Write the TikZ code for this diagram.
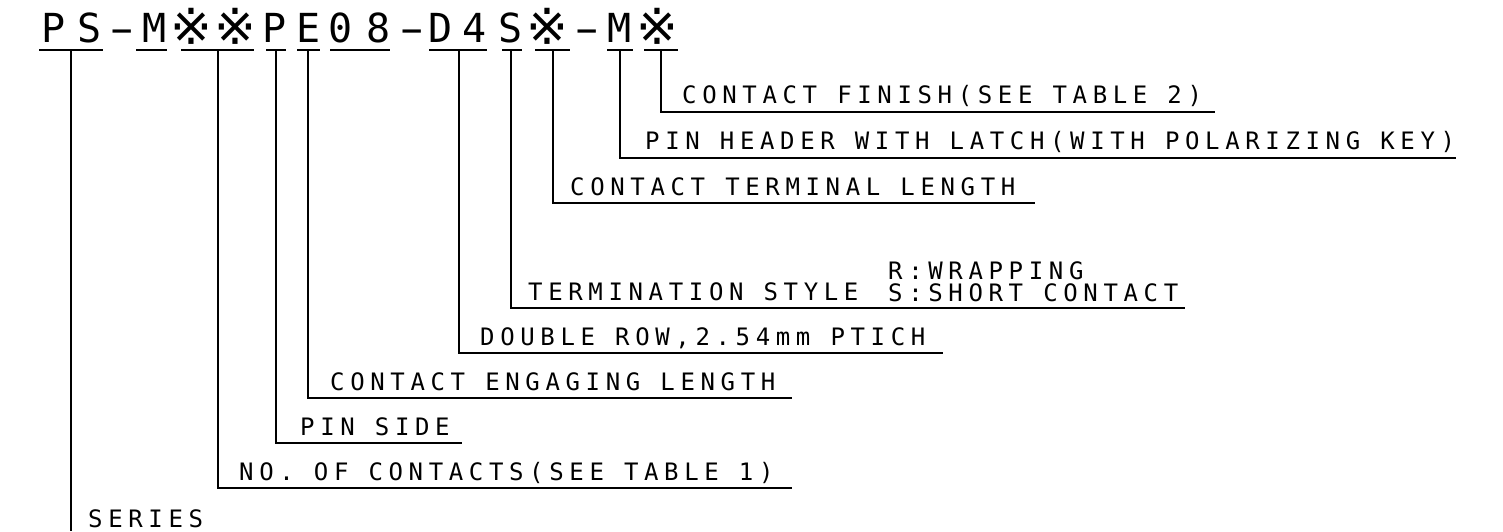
\documentclass[tikz,border=0pt]{standalone}
\usepackage{fontspec}
\newfontfamily\labfont[LetterSpace=23.5]{DejaVu Sans Mono}
\newfontfamily\titfont{DejaVu Sans Mono}
\newfontfamily\symfont{DejaVu Sans}
\newcommand{\refmk}{\raisebox{-2pt}{\scalebox{1.25}{\symfont ※}}}
\newcommand{\tdash}{\scalebox{1.8}[1]{-}}
\begin{document}
\begin{tikzpicture}[x=1pt,y=-1pt,
  lab/.style={anchor=base west,inner sep=0pt,font={\labfont\fontsize{24}{28}\selectfont}},
  tch/.style={anchor=base,inner sep=0pt,font={\titfont\fontsize{40}{44}\selectfont}},
  lead/.style={line width=1.2pt},
  uline/.style={line width=1.8pt}]
\useasboundingbox[fill=white] (0,0) rectangle (1503,531);
% title characters
\node[tch] (t1) at (54,42) {P};
\node[tch] (t2) at (89.5,42) {S};
\node[tch] (t3) at (122,42) {\tdash};
\node[tch] (t4) at (154.5,42) {M};
\node[tch] (t5) at (191.5,42) {\refmk};
\node[tch] (t6) at (235.5,42) {\refmk};
\node[tch] (t7) at (275,42) {P};
\node[tch] (t8) at (308.5,42) {E};
\node[tch] (t9) at (341,42) {0};
\node[tch] (t10) at (379,42) {8};
\node[tch] (t11) at (412.5,42) {\tdash};
\node[tch] (t12) at (441,42) {D};
\node[tch] (t13) at (475,42) {4};
\node[tch] (t14) at (511,42) {S};
\node[tch] (t15) at (547.5,42) {\refmk};
\node[tch] (t16) at (587,42) {\tdash};
\node[tch] (t17) at (620,42) {M};
\node[tch] (t18) at (657.5,42) {\refmk};
% underlines
\draw[uline] (39,50) -- (103,50);
\draw[uline] (136,50) -- (167,50);
\draw[uline] (181,50) -- (254,50);
\draw[uline] (266,50) -- (286,50);
\draw[uline] (297,50) -- (320,50);
\draw[uline] (330,50) -- (390,50);
\draw[uline] (429,50) -- (487,50);
\draw[uline] (502,50) -- (522,50);
\draw[uline] (535,50) -- (570,50);
\draw[uline] (607,50) -- (633,50);
\draw[uline] (644,50) -- (678,50);
% attachment points
\coordinate (u1) at (71,50);
\coordinate (u2) at (218,50);
\coordinate (u3) at (276,50);
\coordinate (u4) at (308,50);
\coordinate (u5) at (459,50);
\coordinate (u6) at (511,50);
\coordinate (u7) at (553,50);
\coordinate (u8) at (620,50);
\coordinate (u9) at (661,50);
\coordinate (e1) at (71,531);
\coordinate (e2) at (792,488);
\coordinate (e3) at (462,443);
\coordinate (e4) at (792,398);
\coordinate (e5) at (943,353);
\coordinate (e6) at (1185,308);
\coordinate (e7) at (1035,203);
\coordinate (e8) at (1456,158);
\coordinate (e9) at (1215,112);
% labels
\node[lab] (l9) at (682,103) {CONTACT FINISH(SEE TABLE 2)};
\node[lab] (l8) at (645,149) {PIN HEADER WITH LATCH(WITH POLARIZING KEY)};
\node[lab] (l7) at (570,195) {CONTACT TERMINAL LENGTH};
\node[lab] (l6r) at (888,279) {R:WRAPPING};
\node[lab] (l6) at (528,300) {TERMINATION STYLE};
\node[lab] (l6s) at (888,301) {S:SHORT CONTACT};
\node[lab] (l5) at (480,345) {DOUBLE ROW,2.54mm PTICH};
\node[lab] (l4) at (330,390) {CONTACT ENGAGING LENGTH};
\node[lab] (l3) at (300,435) {PIN SIDE};
\node[lab] (l2) at (239,480) {NO. OF CONTACTS(SEE TABLE 1)};
\node[lab] (l1) at (88,527) {SERIES};
% leaders
\draw[lead] (u1) -- (e1);
\draw[lead] (u2) |- (e2);
\draw[lead] (u3) |- (e3);
\draw[lead] (u4) |- (e4);
\draw[lead] (u5) |- (e5);
\draw[lead] (u6) |- (e6);
\draw[lead] (u7) |- (e7);
\draw[lead] (u8) |- (e8);
\draw[lead] (u9) |- (e9);
\end{tikzpicture}
\end{document}
